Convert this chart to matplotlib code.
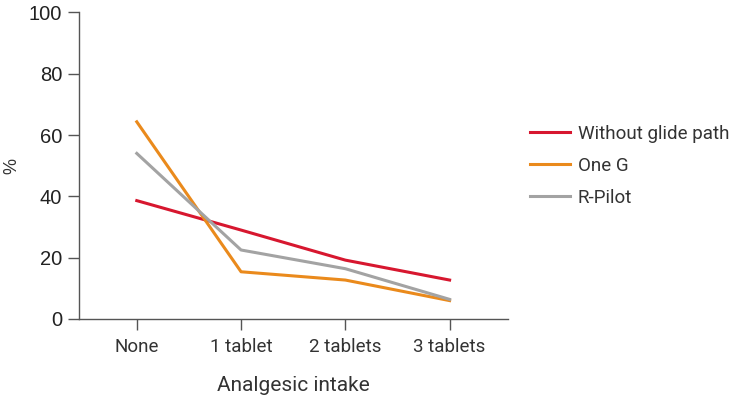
import matplotlib
matplotlib.use("Agg")
import matplotlib.pyplot as plt

# data
categories = ["None", "1 tablet", "2 tablets", "3 tablets"]
without_glide = [38.6, 29.0, 19.2, 12.7]
one_g = [64.3, 15.4, 12.7, 6.0]
r_pilot = [54.0, 22.5, 16.4, 6.4]
y_ticks = [0, 20, 40, 60, 80, 100]

text_font = "Roboto"
num_font = "Liberation Sans"

fig = plt.figure(figsize=(7.44, 3.98), dpi=100)
ax = fig.add_axes([0.1062, 0.1985, 0.5766, 0.7705])

x = range(len(categories))
ax.plot(x, without_glide, color="#d7172f", lw=2.2, label="Without glide path")
ax.plot(x, one_g, color="#ea8a1c", lw=2.2, label="One G")
ax.plot(x, r_pilot, color="#a3a3a3", lw=2.2, label="R-Pilot")

ax.set_xlim(-0.554, 3.56)
ax.set_ylim(0, 100)
ax.set_xticks(list(x))
ax.set_xticklabels(categories, fontfamily=text_font, fontsize=13.5, color="#333333")
ax.set_yticks(y_ticks)
ax.set_yticklabels([str(v) for v in y_ticks], fontfamily=num_font, fontsize=14.5, color="#222222")

for s in ["top", "right"]:
    ax.spines[s].set_visible(False)
for s in ["left", "bottom"]:
    ax.spines[s].set_color("#555555")
    ax.spines[s].set_linewidth(1.0)
ax.tick_params(axis="both", direction="out", length=8, width=1.0, color="#555555")
ax.tick_params(axis="x", pad=6)
ax.tick_params(axis="y", pad=4)

ax.set_xlabel("Analgesic intake", fontfamily=text_font, fontsize=15, color="#333333", labelpad=14)
ax.set_ylabel("%", fontfamily=num_font, fontsize=13, color="#333333", labelpad=6)

leg = ax.legend(loc="center left", bbox_to_anchor=(1.051, 0.499), frameon=False,
                prop={"family": text_font, "size": 13.5}, handlelength=2.13,
                handletextpad=0.43, labelspacing=0.75, borderpad=0, borderaxespad=0)
for t in leg.get_texts():
    t.set_color("#333333")

fig.savefig("out.png", dpi=100)
